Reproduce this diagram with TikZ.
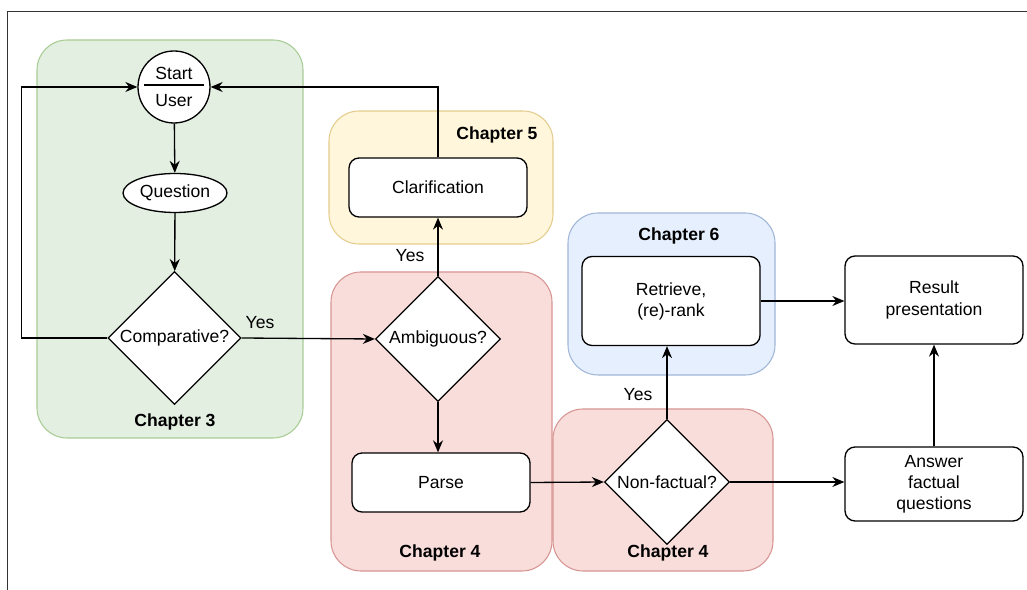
\documentclass[tikz,border=0pt]{standalone}
\usepackage{fontspec}
\setmainfont{Liberation Sans}
\usetikzlibrary{arrows.meta,calc,shapes.geometric}

\definecolor{grnfill}{HTML}{E2EFE1}
\definecolor{grnline}{HTML}{A8CC94}
\definecolor{ylwfill}{HTML}{FFF6DB}
\definecolor{ylwline}{HTML}{E4CC8C}
\definecolor{redfill}{HTML}{F9DDDB}
\definecolor{redline}{HTML}{D69592}
\definecolor{blufill}{HTML}{E5EFFD}
\definecolor{bluline}{HTML}{A0B6D8}

\newcommand{\lblfont}{\fontsize{10}{12}\selectfont}

\tikzset{
	box/.style={draw, rounded corners=0.2cm, fill=white, line width=0.75pt, minimum width=3.56cm, align=center, font=\lblfont},
	decision/.style={draw, diamond, aspect=1, fill=white, line width=0.75pt, inner sep=0pt, font=\lblfont},
	chapter/.style={rounded corners=0.6cm, line width=0.6pt},
	chaplabel/.style={font=\lblfont\bfseries},
	yeslabel/.style={font=\lblfont},
	arr/.style={-{Stealth[length=2.4mm,width=2mm]}, line width=0.75pt},
	link/.style={line width=0.75pt}
}

\begin{document}
\begin{tikzpicture}[x=0.02cm, y=-0.02cm]
		%%%%% START %%%%%
		\useasboundingbox (0,0) rectangle (1027,590);
		
		% frame
		\draw[line width=0.9pt, color=black!80] (1027,11.5) -- (7.5,11.5) -- (7.5,590);
		
		% chapters
		\draw[chapter, fill=grnfill, draw=grnline] (37,40) rectangle (303,438);
		\draw[chapter, fill=ylwfill, draw=ylwline] (329,111) rectangle (553,244);
		\draw[chapter, fill=redfill, draw=redline] (331,272) rectangle (552,571);
		\draw[chapter, fill=redfill, draw=redline] (553,409) rectangle (773,571);
		\draw[chapter, fill=blufill, draw=bluline] (568,213) rectangle (775,375);
		
		\node[chaplabel] (ch3) at (175,422) {Chapter 3};
		\node[chaplabel] (ch5) at (497,135) {Chapter 5};
		\node[chaplabel] (ch4a) at (440,553) {Chapter 4};
		\node[chaplabel] (ch4b) at (668,553) {Chapter 4};
		\node[chaplabel] (ch6) at (679,236) {Chapter 6};
		
		% start / user
		\node[draw, circle, fill=white, line width=0.75pt, minimum size=1.44cm, inner sep=0pt] (usr) at (174,87) {};
		\node[font=\lblfont] (usrtop) at ($(usr)+(0,-14)$) {Start};
		\node[font=\lblfont] (usrbot) at ($(usr)+(0,14)$) {User};
		\draw[line width=1.4pt] ($(usr)+(-30,-2)$) -- ($(usr)+(30,-2)$);
		
		\node[draw, ellipse, fill=white, line width=0.75pt, minimum width=2.08cm, minimum height=0.78cm, inner sep=0pt, font=\lblfont] (qst) at (175,193) {Question};
		
		\node[decision, minimum size=2.66cm] (cmp) at (174.5,338) {Comparative?};
		\node[decision, minimum size=2.5cm] (amb) at (438,339) {Ambiguous?};
		\node[decision, minimum size=2.5cm] (nf) at (667,482) {Non-factual?};
		
		\node[box, minimum height=1.18cm] (clar) at (438,187.5) {Clarification};
		\node[box, minimum height=1.18cm] (prs) at (441,482.5) {Parse};
		\node[box, minimum height=1.78cm] (ret) at (671,301) {Retrieve,\\(re)-rank};
		\node[box, minimum height=1.76cm] (res) at (934,300) {Result\\presentation};
		\node[box, minimum height=1.48cm] (ans) at (934,484) {Answer\\factual\\questions};
		
		% connectors
		\draw[arr] (usr) -- (qst);
		\draw[arr] (qst) -- (cmp);
		\draw[arr] (cmp.west) -- ++(-86,0) |- (usr.west);
		\draw[arr] (cmp.east) -- (amb.west);
		\draw[arr] (amb.north) -- (amb.north |- clar.south);
		\draw[arr] (clar.north) |- (usr.east);
		\draw[arr] (amb.south) -- (amb.south |- prs.north);
		\draw[arr] (prs.east) -- (nf.west);
		\draw[arr] (nf.north) -- (nf.north |- ret.south);
		\draw[arr] (nf.east) -- (nf.east -| ans.west);
		\draw[arr] (ret.east) -- (ret.east -| res.west);
		\draw[arr] (ans.north) -- (res.south);
		
		\node[yeslabel] (yes1) at (260,323) {Yes};
		\node[yeslabel] (yes2) at (410,256) {Yes};
		\node[yeslabel] (yes3) at (638,395) {Yes};
		
		%%%%% END %%%%%
\end{tikzpicture}
\end{document}
